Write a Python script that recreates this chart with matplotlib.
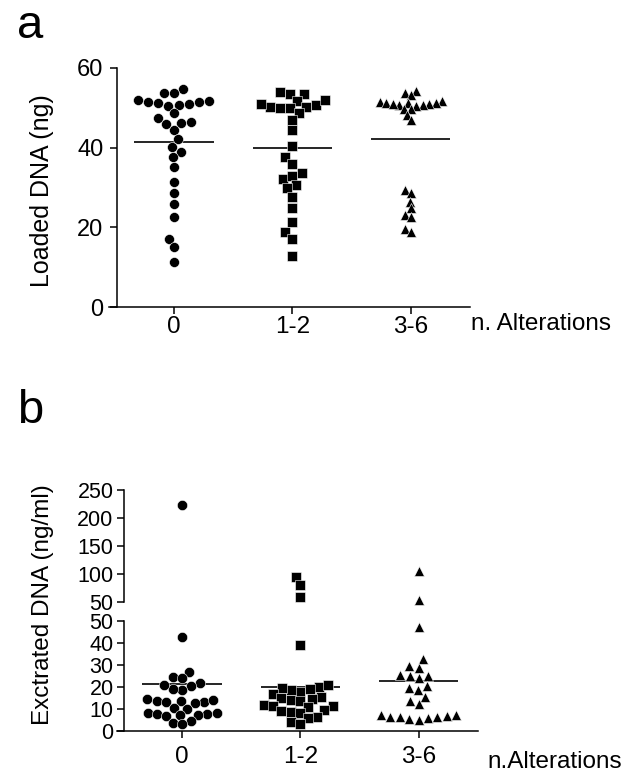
import numpy as np
import matplotlib
matplotlib.use('Agg')
import matplotlib.pyplot as plt
from matplotlib.transforms import ScaledTranslation

plt.rcParams['font.family'] = ['Liberation Sans', 'DejaVu Sans']

groups = ['0', '1-2', '3-6']
markers = ['o', 's', '^']

# panel a: loaded DNA (ng)
loaded_0 = [54.7, 53.8, 53.8, 51.5, 51.0, 51.5, 52.0, 51.3, 50.5, 50.8, 51.6, 48.6, 47.4, 46.3,
            44.4, 45.9, 46.5, 42.1, 40.1, 39.0, 37.6, 35.1, 31.5, 28.7, 25.9, 22.7, 17.1, 15.0, 11.4]
loaded_12 = [53.5, 54.1, 53.5, 51.8, 50.7, 50.3, 49.9, 49.9, 50.3, 51.0, 52.0, 48.6, 46.9, 44.4,
             40.4, 37.7, 36.0, 33.6, 32.1, 32.9, 30.6, 29.8, 27.7, 24.8, 21.4, 18.9, 17.1, 12.8]
loaded_36 = [53.8, 54.3, 53.2, 51.6, 51.3, 51.0, 50.7, 51.4, 51.1, 50.8, 50.5, 51.2, 50.9, 49.7,
             49.7, 48.2, 46.9, 29.4, 28.5, 26.4, 24.8, 23.1, 22.7, 19.7, 18.9]
loaded_mean = [41.5, 39.8, 42.1]

# panel b: extracted DNA (ng/ml), axis broken at 50
extr_0 = [223, 42.9, 27.0, 24.7, 24.0, 21.7, 20.5, 18.6, 18.9, 20.9, 14.5, 13.8, 13.2, 13.5,
          12.6, 13.0, 14.0, 10.5, 10.0, 8.0, 7.6, 7.2, 7.8, 8.3, 7.4, 6.8, 4.5, 3.5, 3.0]
extr_12 = [95.2, 80.4, 59.5, 39.1, 17.9, 19.9, 18.6, 19.0, 19.4, 20.9, 16.8, 15.5, 14.6, 15.0,
           14.2, 13.5, 12.0, 11.5, 10.8, 11.2, 9.5, 8.8, 8.2, 9.0, 6.5, 5.8, 4.0, 3.2]
extr_36 = [105.4, 53.6, 47.1, 32.6, 29.5, 28.8, 25.1, 24.0, 25.5, 25.1, 18.6, 19.4, 20.5, 15.6,
           13.6, 12.3, 7.3, 6.2, 5.8, 5.0, 5.3, 6.2, 6.8, 7.3, 6.5]
extr_mean = [21.2, 20.0, 22.9]


def swarm_x(ax, center, values, diam):
    # greedy beeswarm in pixel space, lowest points first
    values = np.asarray(values, float)
    pix = ax.transData.transform(np.column_stack([np.full(len(values), center), values]))
    ys = pix[:, 1]
    unit = ax.transData.transform((1, 0))[0] - ax.transData.transform((0, 0))[0]
    offs = np.zeros(len(values))
    done = []
    for i in np.argsort(ys, kind='stable'):
        y = ys[i]
        cands = [0.0]
        for ox, oy in done:
            dy = abs(oy - y)
            if dy < diam:
                dx = np.sqrt(diam**2 - dy**2)
                cands += [ox - dx, ox + dx]
        cands.sort(key=abs)
        for c in cands:
            if all((c - ox)**2 + (y - oy)**2 >= diam**2 - 1e-6 for ox, oy in done):
                offs[i] = c
                break
        done.append((offs[i], y))
    return center + offs / unit


def style(ax, ymin, ymax, xpos, bottom=True):
    ax.spines['top'].set_visible(False)
    ax.spines['right'].set_visible(False)
    ax.spines['left'].set_position(('data', xpos))
    ax.spines['left'].set_bounds(ymin, ymax)
    for s in ax.spines.values():
        s.set_linewidth(1.1)
    ax.set_xlim(-0.55, 2.5)
    ax.set_ylim(ymin, ymax)
    ax.tick_params(direction='out', length=5, width=1.1, labelsize=17, pad=2.5)
    if bottom:
        ax.set_xticks([0, 1, 2])
        ax.set_xticklabels(groups)
        ax.tick_params(axis='x', labelsize=17.5)
    else:
        ax.spines['bottom'].set_visible(False)
        ax.set_xticks([])
    ax.patch.set_visible(False)


W, H = 631, 772
fig = plt.figure(figsize=(W / 100, H / 100), dpi=100)

# ---- panel a
axa = fig.add_axes([109 / W, (H - 307) / H, 361 / W, 239 / H])
style(axa, 0, 60, -0.48)
axa.set_yticks([0, 20, 40, 60])
axa.tick_params(axis='y', pad=5)
axa.tick_params(axis='x', pad=1.5)
diam_a = [10, 10, 6.5]
for i, vals in enumerate([loaded_0, loaded_12, loaded_36]):
    xs = swarm_x(axa, i, vals, diam_a[i])
    axa.plot(xs, vals, linestyle='none', marker=markers[i], ms=7.2, color='black',
             mec='white', mew=0.4, clip_on=False, zorder=3)
    axa.hlines(loaded_mean[i], i - 0.335, i + 0.335, color='black', lw=1.2, zorder=2)

fig.text(17 / W, 1 - 38 / H, 'a', fontsize=34, va='baseline', ha='left')
fig.text(42 / W, 1 - 191 / H, 'Loaded DNA (ng)', rotation=90, fontsize=18,
         ha='center', va='center')
fig.text(471 / W, 1 - 324 / H, 'n. Alterations', fontsize=17.5, ha='left', va='center')

# ---- panel b, broken y axis
left_b = (182 - 0.55 * 118.4) / W
axl = fig.add_axes([left_b, 41 / H, 361 / W, 110 / H])
axu = fig.add_axes([left_b, 170 / H, 361 / W, 112 / H])
style(axl, 0, 50, -0.49)
style(axu, 50, 250, -0.49, bottom=False)
axl.set_yticks([0, 10, 20, 30, 40, 50])
axu.set_yticks([50, 100, 150, 200, 250])
axl.tick_params(axis='y', labelsize=15.5)
axu.tick_params(axis='y', labelsize=15.5)
axl.tick_params(axis='x', pad=6)

# the two "50" labels at the break sit very close; nudge them apart a little
for ax, dy in [(axu, 2.5), (axl, -2.5)]:
    for t in ax.yaxis.get_major_ticks():
        if t.get_loc() == 50:
            t.label1.set_transform(t.label1.get_transform()
                                   + ScaledTranslation(0, dy / 100, fig.dpi_scale_trans))

for i, vals in enumerate([extr_0, extr_12, extr_36]):
    vals = np.asarray(vals, float)
    lo = vals[vals <= 50]
    hi = vals[vals > 50]
    for ax, part in [(axl, lo), (axu, hi)]:
        if len(part) == 0:
            continue
        xs = swarm_x(ax, i, part, 9.5)
        ax.plot(xs, part, linestyle='none', marker=markers[i], ms=7.4, color='black',
                mec='white', mew=0.4, clip_on=False, zorder=3)
    axl.hlines(extr_mean[i], i - 0.335, i + 0.335, color='black', lw=1.2, zorder=2)

fig.text(17 / W, 1 - 423 / H, 'b', fontsize=34, va='baseline', ha='left')
fig.text(43 / W, 1 - 605 / H, 'Exctrated DNA (ng/ml)', rotation=90, fontsize=17.5,
         ha='center', va='center')
fig.text(487 / W, 1 - 762 / H, 'n.Alterations', fontsize=17.5, ha='left', va='center')

fig.savefig('out.png', dpi=100)
